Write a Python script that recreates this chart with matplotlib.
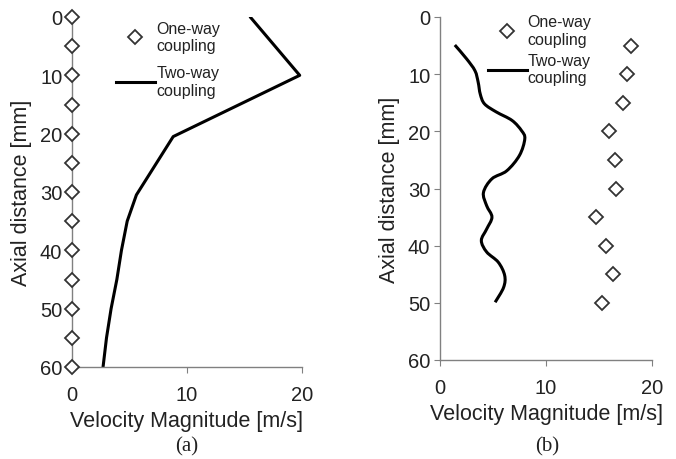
import matplotlib.pyplot as plt
from matplotlib.path import Path
from matplotlib.patches import PathPatch
from matplotlib.lines import Line2D
import numpy as np

plt.rcParams['font.family'] = ['Liberation Sans', 'DejaVu Sans']

# panel (a)
a_one_y = [0, 5, 10, 15, 20, 25, 30, 35, 40, 45, 50, 55, 60]
a_one_v = [0, 0, 0, 0, 0, 0, 0, 0, 0, 0, 0, 0, 0]
a_two_y = [0, 10, 20.5, 30.5, 35, 40, 45, 50, 55, 60]
a_two_v = [15.5, 19.8, 8.8, 5.6, 4.8, 4.3, 3.9, 3.4, 3.0, 2.7]

# panel (b)
b_one_y = [5, 10, 15, 20, 25, 30, 35, 40, 45, 50]
b_one_v = [18.0, 17.6, 17.3, 15.9, 16.5, 16.6, 14.7, 15.7, 16.3, 15.3]
b_two_y = [4.9, 7.3, 9.4, 11.4, 13.5, 15.2, 16.6, 18.1, 19.9, 21.3, 24.2, 26.9, 28.3,
           30.7, 33.0, 35.0, 37.1, 39.1, 41.1, 42.9, 45.2, 47.3, 49.9]
b_two_v = [1.4, 2.5, 3.3, 3.6, 3.8, 4.2, 5.3, 6.8, 7.7, 8.0, 7.5, 6.3, 4.9,
           4.1, 4.4, 4.9, 4.4, 3.9, 4.4, 5.5, 6.1, 6.0, 5.2]


def smooth_path(xs, ys):
    # Catmull-Rom through the points, as cubic Bezier segments
    p = np.column_stack([xs, ys]).astype(float)
    verts = [p[0]]
    codes = [Path.MOVETO]
    n = len(p)
    for i in range(n - 1):
        p0 = p[i - 1] if i > 0 else p[i]
        p3 = p[i + 2] if i + 2 < n else p[i + 1]
        c1 = p[i] + (p[i + 1] - p0) / 6
        c2 = p[i + 1] - (p3 - p[i]) / 6
        verts += [c1, c2, p[i + 1]]
        codes += [Path.CURVE4] * 3
    return Path(verts, codes)


fig = plt.figure(figsize=(6.76, 4.6), dpi=100)
W, H = 676, 460
axa = fig.add_axes([72/W, 1-368/H, (302-72)/W, (368-18)/H])
axb = fig.add_axes([440/W, 1-361/H, (652-440)/W, (361-18)/H])

txt = '#222222'

def style(ax):
    ax.set_xlim(0, 20)
    ax.set_ylim(60, 0)
    ax.set_xticks([0, 10, 20])
    ax.set_yticks([0, 10, 20, 30, 40, 50, 60])
    for s in ['top', 'right']:
        ax.spines[s].set_visible(False)
    for s in ['left', 'bottom']:
        ax.spines[s].set_color('#808080')
        ax.spines[s].set_linewidth(1.0)
    ax.tick_params(direction='out', length=4, color='#808080', labelsize=14.5, colors=txt)
    ax.tick_params(axis='y', pad=3)
    ax.tick_params(axis='x', pad=9)
    ax.set_xlabel("Velocity Magnitude [m/s]", fontsize=15.5, color=txt, labelpad=4)
    ax.set_ylabel("Axial distance [mm]", fontsize=15.5, color=txt, labelpad=6)

diamond = dict(linestyle='none', marker='D', markersize=7, markerfacecolor='white',
               markeredgecolor='#333333', markeredgewidth=1.3)
two_handle = Line2D([], [], color='black', linewidth=2.2)

style(axa)
ha = axa.plot(a_one_v, a_one_y, clip_on=False, zorder=5, **diamond)[0]
axa.plot(a_two_v, a_two_y, color='black', linewidth=2.2, solid_joinstyle='round', solid_capstyle='round')
axa.legend([ha, two_handle], ["One-way\ncoupling", "Two-way\ncoupling"],
           loc='upper left', bbox_to_anchor=(0.13, 1.03), frameon=False, fontsize=11.5,
           handlelength=2.4, handletextpad=0.1, labelspacing=0.75, labelcolor=txt)

style(axb)
hb = axb.plot(b_one_v, b_one_y, **diamond)[0]
axb.add_patch(PathPatch(smooth_path(b_two_v, b_two_y), facecolor='none', edgecolor='black', linewidth=2.2))
axb.legend([hb, two_handle], ["One-way\ncoupling", "Two-way\ncoupling"],
           loc='upper left', bbox_to_anchor=(0.16, 1.05), frameon=False, fontsize=11.5,
           handlelength=2.4, handletextpad=0.05, labelspacing=0.4, labelcolor=txt)

fig.text(187/W, 1-447/H, "(a)", fontsize=15, family='Liberation Serif', ha='center', va='center', color=txt)
fig.text(547/W, 1-447/H, "(b)", fontsize=15, family='Liberation Serif', ha='center', va='center', color=txt)

plt.savefig("out.png", dpi=100)
